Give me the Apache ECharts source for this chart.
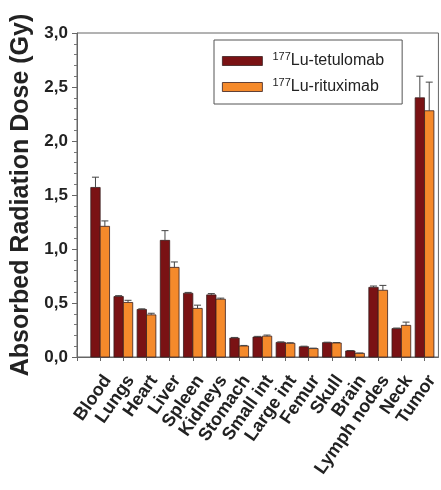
<!DOCTYPE html>
<html>
<head>
<meta charset="utf-8">
<script src="https://cdn.jsdelivr.net/npm/echarts@6/dist/echarts.min.js"></script>
<style>
  html, body { margin: 0; padding: 0; background: #fff; }
  #chart { width: 441px; height: 490px; }
</style>
</head>
<body>
<div id="chart"></div>
<script>
// absorbed dose per organ, two radioimmunoconjugates
const organs = ['Blood', 'Lungs', 'Heart', 'Liver', 'Spleen', 'Kidneys', 'Stomach', 'Small int',
  'Large int', 'Femur', 'Skull', 'Brain', 'Lymph nodes', 'Neck', 'Tumor']
const tetulomab = [1.57, 0.56, 0.44, 1.08, 0.59, 0.575, 0.175, 0.185, 0.135, 0.095, 0.133, 0.056, 0.645, 0.263, 2.40]
const tetulomabErr = [0.095, 0.008, 0.006, 0.09, 0.008, 0.012, 0.006, 0.006, 0.005, 0.005, 0.004, 0.004, 0.012, 0.005, 0.20]
const rituximab = [1.21, 0.505, 0.39, 0.83, 0.45, 0.535, 0.102, 0.193, 0.127, 0.078, 0.13, 0.034, 0.618, 0.293, 2.28]
const rituximabErr = [0.05, 0.02, 0.015, 0.05, 0.03, 0.01, 0.005, 0.01, 0.005, 0.004, 0.004, 0.003, 0.045, 0.03, 0.265]
const yTicks = [0, 0.5, 1, 1.5, 2, 2.5, 3]

const FONT = '"Liberation Sans", Arial, Helvetica, sans-serif'
const RED = '#7a1214'
const ORANGE = '#f58a2b'

function barRenderer(side) {
  return function (params, api) {
    const i = api.value(0)
    const v = api.value(1)
    const e = api.value(2)
    const base = api.coord([i, 0])
    const top = api.coord([i, v])
    const w = api.size([1, 0])[0] * 0.405
    const x0 = side < 0 ? base[0] - w : base[0]
    const cx = x0 + w / 2
    const children = [{
      type: 'rect',
      shape: { x: x0, y: top[1], width: w, height: base[1] - top[1] },
      style: { fill: api.visual('color'), stroke: '#3a2020', lineWidth: 0.8 },
    }]
    if (e > 0) {
      const et = api.coord([i, v + e])
      const errStyle = { stroke: '#444', lineWidth: 1 }
      children.push(
        { type: 'line', shape: { x1: cx, y1: top[1], x2: cx, y2: et[1] }, style: errStyle },
        { type: 'line', shape: { x1: cx - 3.5, y1: et[1], x2: cx + 3.5, y2: et[1] }, style: errStyle },
      )
    }
    return { type: 'group', children }
  }
}

const chart = echarts.init(document.getElementById('chart'))
chart.setOption({
  animation: false,
  backgroundColor: '#fff',
  textStyle: { fontFamily: FONT },
  grid: {
    left: 77, top: 33, width: 365, height: 324,
    show: true, borderColor: '#666', borderWidth: 1,
  },
  legend: {
    orient: 'vertical',
    left: 214, top: 40,
    padding: [11, 18, 9, 8],
    itemGap: 8,
    itemWidth: 40, itemHeight: 9,
    borderColor: '#555', borderWidth: 1, borderRadius: 0,
    backgroundColor: '#fff',
    itemStyle: { borderColor: '#3a2020', borderWidth: 0.8 },
    data: [{ name: '177Lu-tetulomab', icon: 'rect' }, { name: '177Lu-rituximab', icon: 'rect' }],
    formatter: (n) => `{sup|177}{lab|${n.slice(3)}}`,
    textStyle: {
      fontFamily: FONT,
      rich: {
        sup: { fontSize: 11, lineHeight: 11, verticalAlign: 'top', color: '#222', padding: [0, 0, 0, 5] },
        lab: { fontSize: 16, lineHeight: 20, color: '#222' },
      },
    },
  },
  xAxis: {
    type: 'value',
    min: -1, max: 14.6, interval: 1,
    splitLine: { show: false },
    axisLine: { show: true, onZero: false, lineStyle: { color: '#666', width: 1 } },
    axisTick: { show: true, length: 4, lineStyle: { color: '#666' } },
    axisLabel: {
      rotate: 55, margin: 15,
      align: 'right', verticalAlign: 'top',
      fontFamily: FONT, fontSize: 18, fontWeight: 'bold', color: '#222',
      showMaxLabel: false,
      formatter: (v) => (Number.isInteger(v) && organs[v]) ? organs[v] : '',
    },
  },
  yAxis: {
    type: 'value',
    min: yTicks[0], max: yTicks[yTicks.length - 1], interval: 0.5,
    name: 'Absorbed Radiation Dose (Gy)',
    nameLocation: 'middle', nameGap: 28,
    nameTextStyle: { fontFamily: FONT, fontSize: 25, fontWeight: 'bold', color: '#222' },
    splitLine: { show: false },
    axisLine: { show: true, onZero: false, lineStyle: { color: '#666', width: 1 } },
    axisTick: { show: true, length: 5, lineStyle: { color: '#666' } },
    minorTick: { show: true, splitNumber: 5, length: 3, lineStyle: { color: '#777' } },
    axisLabel: {
      margin: 9,
      fontFamily: FONT, fontSize: 17, fontWeight: 'bold', color: '#222',
      formatter: (v) => v.toFixed(1).replace('.', ','),
    },
  },
  series: [
    {
      name: '177Lu-tetulomab',
      type: 'custom',
      itemStyle: { color: RED },
      renderItem: barRenderer(-1),
      encode: { x: 0, y: 1 },
      data: tetulomab.map((v, i) => [i, v, tetulomabErr[i]]),
    },
    {
      name: '177Lu-rituximab',
      type: 'custom',
      itemStyle: { color: ORANGE },
      renderItem: barRenderer(1),
      encode: { x: 0, y: 1 },
      data: rituximab.map((v, i) => [i, v, rituximabErr[i]]),
    },
  ],
})
</script>
</body>
</html>
